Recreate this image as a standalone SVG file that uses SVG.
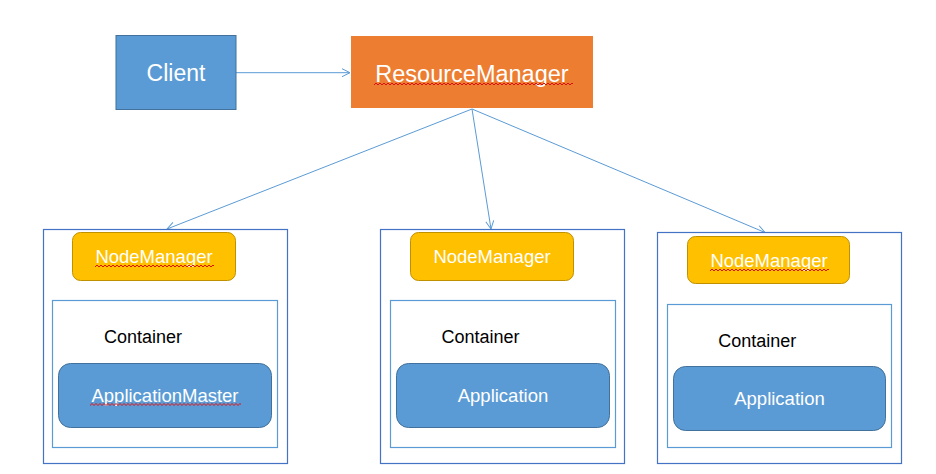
<svg xmlns="http://www.w3.org/2000/svg" width="936" height="474" viewBox="0 0 936 474">
<style>
.t{font-family:"Liberation Sans",Arial,sans-serif;fill:#fff;text-anchor:middle}
.blue{fill:#5B9BD5;stroke:#41719C;stroke-width:1}
.nm{fill:#FFC000;stroke:#BF9000;stroke-width:1}
.outer{fill:#fff;stroke:#4472C4;stroke-width:1.2}
.inner{fill:#fff;stroke:#5B9BD5;stroke-width:1.2}
.lbl{font-family:"Liberation Sans",Arial,sans-serif;fill:#000;font-size:18px}
.conn{stroke:#5B9BD5;stroke-width:1;fill:none;marker-end:url(#arr)}
.sq{fill:url(#sqp)}
</style>
<defs>
<marker id="arr" markerUnits="userSpaceOnUse" markerWidth="12" markerHeight="12" refX="9" refY="5" orient="auto" viewBox="0 0 12 10">
<path d="M1,1 L9,5 L1,9" fill="none" stroke="#5B9BD5" stroke-width="1"/>
</marker>
<pattern id="sqp" patternUnits="userSpaceOnUse" width="4" height="4">
<path d="M0,3 L2,1 L4,3" fill="none" stroke="#E01010" stroke-width="1"/>
</pattern>
</defs>
<g id="connectors">
<line class="conn" x1="236" y1="72.7" x2="350" y2="72.7"/>
<line class="conn" x1="472" y1="109" x2="167" y2="229"/>
<line class="conn" x1="472" y1="109" x2="491" y2="229"/>
<line class="conn" x1="472" y1="109" x2="765" y2="232.5"/>
</g>
<g id="client">
<rect class="blue" x="116" y="35.5" width="120" height="74"/>
<text class="t" x="176" y="81" font-size="23">Client</text>
</g>
<g id="resourcemanager">
<rect x="351" y="36" width="242" height="72" fill="#ED7D31"/>
<text class="t" x="472" y="81.5" font-size="23.5">ResourceManager</text>
<g transform="translate(374,82)"><rect class="sq" width="199" height="4"/></g>
</g>
<g id="node1">
<rect class="outer" x="43.5" y="229.5" width="244" height="234"/>
<g id="nm1">
<rect class="nm" x="72.5" y="232.5" width="163" height="48" rx="8"/>
<text class="t" x="154" y="263" font-size="18.5">NodeManager</text>
<g transform="translate(95,264)"><rect class="sq" width="119" height="4"/></g>
</g>
<g id="container1">
<rect class="inner" x="52.5" y="300.5" width="225" height="147"/>
<text class="lbl" x="104" y="342.5">Container</text>
<rect class="blue" x="58.5" y="363.5" width="213" height="64" rx="12"/>
<text class="t" x="165" y="401.5" font-size="18.5">ApplicationMaster</text>
<g transform="translate(90,402.5)"><rect class="sq" width="151" height="4"/></g>
</g>
</g>
<g id="node2">
<rect class="outer" x="380.5" y="229.5" width="244" height="234"/>
<g id="nm2">
<rect class="nm" x="410.5" y="232.5" width="163" height="48" rx="8"/>
<text class="t" x="492" y="263" font-size="18.5">NodeManager</text>
</g>
<g id="container2">
<rect class="inner" x="390.5" y="300.5" width="225" height="147"/>
<text class="lbl" x="441.5" y="342.5">Container</text>
<rect class="blue" x="396.5" y="363.5" width="213" height="64" rx="12"/>
<text class="t" x="503" y="401.5" font-size="18.5">Application</text>
</g>
</g>
<g id="node3">
<rect class="outer" x="657.5" y="232.5" width="244" height="231"/>
<g id="nm3">
<rect class="nm" x="687.5" y="236.5" width="162" height="47" rx="8"/>
<text class="t" x="769" y="267.3" font-size="18.5">NodeManager</text>
<g transform="translate(710,268)"><rect class="sq" width="119" height="4"/></g>
</g>
<g id="container3">
<rect class="inner" x="667.5" y="304.5" width="224" height="143"/>
<text class="lbl" x="718.3" y="346.5">Container</text>
<rect class="blue" x="673.5" y="366.5" width="212" height="64" rx="12"/>
<text class="t" x="779.5" y="404.5" font-size="18.5">Application</text>
</g>
</g>
</svg>
